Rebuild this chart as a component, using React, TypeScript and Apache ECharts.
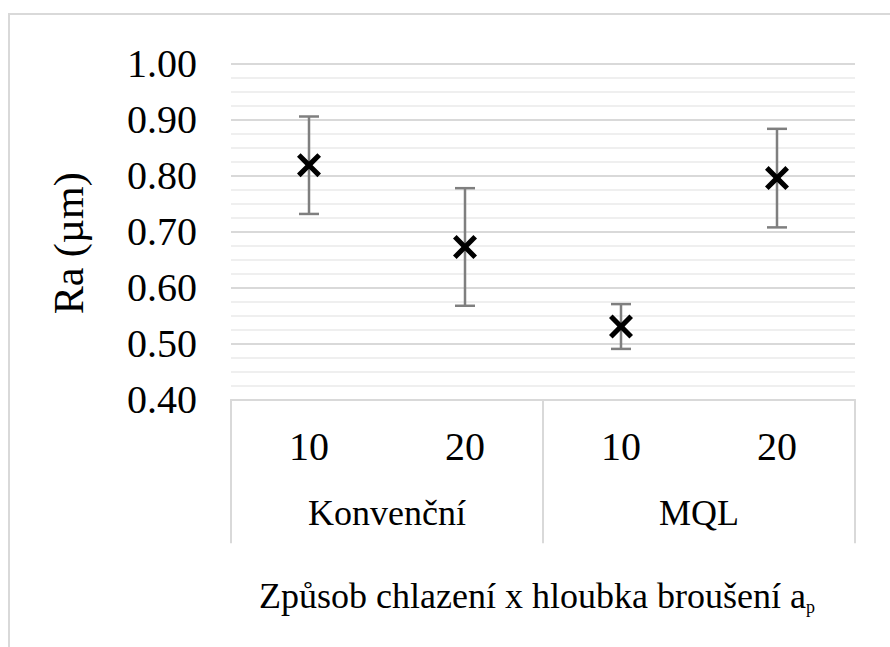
import React, { useEffect, useRef } from "react";
import * as echarts from "echarts";

const categories = ["10", "20", "10", "20"];
const groups = ["Konvenční", "MQL"];
const means = [0.818, 0.672, 0.53, 0.795];
const errors = [0.087, 0.105, 0.04, 0.088];
const yTicks = { min: 0.4, max: 1.0, interval: 0.1 };
const xTitle = "Způsob chlazení x hloubka broušení a";
const xTitleSub = "p";

const FONT = "Liberation Serif";
const X_PATH =
  "path://M0,3 L3,0 L10,7 L17,0 L20,3 L13,10 L20,17 L17,20 L10,13 L3,20 L0,17 L7,10 Z";

export default function App() {
  const ref = useRef<HTMLDivElement>(null);
  useEffect(() => {
    if (!ref.current) return;
    const chart = echarts.init(ref.current, undefined, { renderer: "svg" });
    const errData = means.map((m, i) => [i, m - errors[i], m + errors[i]]);
    chart.setOption({
      animation: false,
      backgroundColor: "#ffffff",
      graphic: [
        {
          type: "rect",
          shape: { x: 9, y: 14, width: 900, height: 700 },
          style: { fill: "none", stroke: "#d9d9d9", lineWidth: 2 },
          silent: true,
          z: -10,
        },
        {
          type: "text",
          x: 259,
          y: 596,
          silent: true,
          style: {
            text: xTitle,
            font: "36px Liberation Serif",
            fill: "#000",
            align: "left",
            verticalAlign: "middle",
          },
        },
        {
          type: "text",
          x: 806,
          y: 607,
          silent: true,
          style: {
            text: xTitleSub,
            font: "18px Liberation Serif",
            fill: "#000",
            align: "left",
            verticalAlign: "middle",
          },
        },
      ],
      grid: { left: 231, right: 35, top: 63.3, bottom: 247.7 },
      xAxis: [
        {
          type: "category",
          data: categories,
          position: "bottom",
          axisLine: { show: true, lineStyle: { color: "#d9d9d9", width: 2 } },
          axisTick: { show: false },
          axisLabel: {
            margin: 27,
            fontSize: 40,
            lineHeight: 40,
            color: "#000",
            fontFamily: FONT,
          },
          splitLine: { show: false },
        },
        {
          type: "category",
          data: groups,
          position: "bottom",
          gridIndex: 0,
          axisLine: { show: false },
          axisTick: {
            show: true,
            length: 144,
            lineStyle: { color: "#d9d9d9", width: 2 },
          },
          axisLabel: {
            margin: 96,
            fontSize: 36,
            lineHeight: 36,
            color: "#000",
            fontFamily: FONT,
          },
          splitLine: { show: false },
        },
      ],
      yAxis: {
        type: "value",
        min: yTicks.min,
        max: yTicks.max,
        interval: yTicks.interval,
        axisLine: { show: false },
        axisTick: { show: false },
        axisLabel: {
          formatter: (v: number) => v.toFixed(2),
          fontSize: 40,
          color: "#000",
          margin: 34,
          fontFamily: FONT,
        },
        splitLine: { show: true, lineStyle: { color: "#d9d9d9", width: 2 } },
        minorTick: { show: false, splitNumber: 4 },
        minorSplitLine: { show: true, lineStyle: { color: "#efefef", width: 2 } },
        name: "Ra (µm)",
        nameLocation: "middle",
        nameRotate: 90,
        nameGap: 141,
        nameTextStyle: {
          fontSize: 42,
          color: "#000",
          fontFamily: FONT,
          padding: [0, 24, 0, 0],
        },
      },
      series: [
        {
          type: "custom",
          xAxisIndex: 0,
          z: 2,
          data: errData,
          encode: { x: 0, y: [1, 2] },
          renderItem: (params: any, api: any) => {
            const x = api.value(0);
            const lo = api.coord([x, api.value(1)]);
            const hi = api.coord([x, api.value(2)]);
            const half = 10;
            const style = { stroke: "#7f7f7f", lineWidth: 2.5 };
            return {
              type: "group",
              children: [
                { type: "line", shape: { x1: lo[0], y1: lo[1], x2: hi[0], y2: hi[1] }, style },
                { type: "line", shape: { x1: hi[0] - half, y1: hi[1], x2: hi[0] + half, y2: hi[1] }, style },
                { type: "line", shape: { x1: lo[0] - half, y1: lo[1], x2: lo[0] + half, y2: lo[1] }, style },
              ],
            };
          },
        },
        {
          type: "scatter",
          xAxisIndex: 0,
          z: 3,
          data: means,
          symbol: X_PATH,
          symbolSize: 24,
          itemStyle: { color: "#000", opacity: 1 },
        },
      ],
    });
    return () => chart.dispose();
  }, []);
  return (
    <div
      ref={ref}
      style={{ position: "absolute", left: 0, top: 0, width: 890, height: 647 }}
    />
  );
}
